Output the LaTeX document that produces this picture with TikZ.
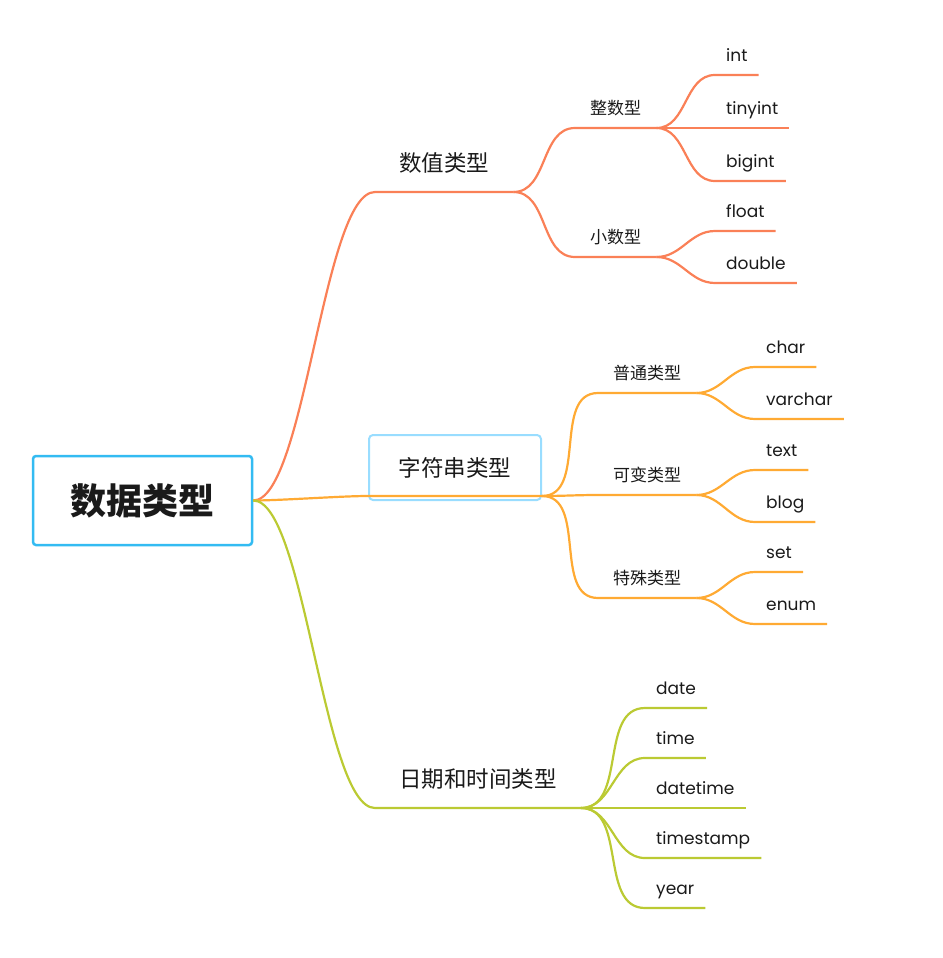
\documentclass[tikz,border=0pt]{standalone}
\usepackage{fontspec}
\setmainfont{Poppins}
\newfontfamily\cjk{Noto Sans CJK SC}

\definecolor{numred}{HTML}{FA8057}
\definecolor{strorange}{HTML}{FFAA33}
\definecolor{dategreen}{HTML}{BBCA33}
\definecolor{rootblue}{HTML}{33BBF2}
\definecolor{selblue}{HTML}{99DDFF}
\definecolor{ink}{HTML}{1A1A1A}

\tikzset{
  root/.style = {draw=rootblue, line width=2.5pt, rounded corners=3pt, minimum width=219pt, minimum height=89pt, text=ink, font=\cjk\bfseries\fontsize{36}{40}\selectfont},
  topic/.style = {anchor=south west, inner xsep=24pt, inner ysep=15.5pt, text depth=5pt, text=ink, font=\cjk\fontsize{22.5}{26}\selectfont},
  picked/.style = {draw=selblue, line width=2pt, rounded corners=4pt, minimum width=172pt, minimum height=65pt, text=ink, font=\cjk\fontsize{22.5}{26}\selectfont},
  sub/.style = {anchor=south west, inner xsep=15pt, inner ysep=9.5pt, text depth=4pt, text=ink, font=\cjk\fontsize{17}{20}\selectfont},
  leaf/.style = {anchor=south west, inner xsep=11pt, inner ysep=9pt, text height=12pt, text depth=4pt, text=ink, font=\fontsize{17}{20}\selectfont},
  numline/.style = {draw=numred, line width=2.2pt},
  strline/.style = {draw=strorange, line width=2.2pt},
  dateline/.style = {draw=dategreen, line width=2.2pt},
}

\begin{document}
\begin{tikzpicture}[x=1pt, y=-1pt]
	\useasboundingbox (0,0) rectangle (942,958);

	%% Nodes
	\node[root] (root) at (142.5,500.5) {数据类型};

	\node[topic] (num) at (375,192) {数值类型};
	\node[picked] (str) at (455,467.5) {字符串类型};
	\node[topic] (date) at (375,808) {日期和时间类型};

	\node[sub] (zheng) at (575,128) {整数型};
	\node[sub] (xiao) at (575,257) {小数型};

	\node[leaf] (int) at (715,75) {int};
	\node[leaf] (tinyint) at (715,128) {tinyint};
	\node[leaf] (bigint) at (715,181) {bigint};
	\node[leaf] (float) at (715,231) {float};
	\node[leaf] (double) at (715,283) {double};

	\node[sub] (putong) at (598,393) {普通类型};
	\node[sub] (kebian) at (598,495) {可变类型};
	\node[sub] (teshu) at (598,598) {特殊类型};

	\node[leaf] (char) at (755,367) {char};
	\node[leaf] (varchar) at (755,419) {varchar};
	\node[leaf] (text) at (755,470) {text};
	\node[leaf] (blog) at (755,522) {blog};
	\node[leaf] (set) at (755,572) {set};
	\node[leaf] (enum) at (755,624) {enum};

	\node[leaf] (d1) at (645,708) {date};
	\node[leaf] (d2) at (645,758) {time};
	\node[leaf] (d3) at (645,808) {datetime};
	\node[leaf] (d4) at (645,858) {timestamp};
	\node[leaf] (d5) at (645,908) {year};

	\coordinate (str-w) at ([yshift=5pt]str.south west);
	\coordinate (str-e) at ([yshift=5pt]str.south east);

	%% Edges
	\draw[numline] (root.east) to[out=0, in=180, looseness=0.4] (num.south west) -- (num.south east);
	\draw[strline] (root.east) to[out=0, in=180, looseness=0.6] (str-w) -- (str-e);
	\draw[dateline] (root.east) to[out=0, in=180, looseness=0.4] (date.south west) -- (date.south east);

	\draw[numline] (num.south east) to[out=0, in=180] (zheng.south west) -- (zheng.south east);
	\draw[numline] (num.south east) to[out=0, in=180] (xiao.south west) -- (xiao.south east);
	\draw[numline] (zheng.south east) to[out=0, in=180] (int.south west) -- (int.south east);
	\draw[numline] (zheng.south east) to[out=0, in=180] (tinyint.south west) -- (tinyint.south east);
	\draw[numline] (zheng.south east) to[out=0, in=180] (bigint.south west) -- (bigint.south east);
	\draw[numline] (xiao.south east) to[out=0, in=180] (float.south west) -- (float.south east);
	\draw[numline] (xiao.south east) to[out=0, in=180] (double.south west) -- (double.south east);

	\draw[strline] (str-e) to[out=0, in=180] (putong.south west) -- (putong.south east);
	\draw[strline] (str-e) to[out=0, in=180] (kebian.south west) -- (kebian.south east);
	\draw[strline] (str-e) to[out=0, in=180] (teshu.south west) -- (teshu.south east);
	\draw[strline] (putong.south east) to[out=0, in=180] (char.south west) -- (char.south east);
	\draw[strline] (putong.south east) to[out=0, in=180] (varchar.south west) -- (varchar.south east);
	\draw[strline] (kebian.south east) to[out=0, in=180] (text.south west) -- (text.south east);
	\draw[strline] (kebian.south east) to[out=0, in=180] (blog.south west) -- (blog.south east);
	\draw[strline] (teshu.south east) to[out=0, in=180] (set.south west) -- (set.south east);
	\draw[strline] (teshu.south east) to[out=0, in=180] (enum.south west) -- (enum.south east);

	\draw[dateline] (date.south east) to[out=0, in=180] (d1.south west) -- (d1.south east);
	\draw[dateline] (date.south east) to[out=0, in=180] (d2.south west) -- (d2.south east);
	\draw[dateline] (date.south east) to[out=0, in=180] (d3.south west) -- (d3.south east);
	\draw[dateline] (date.south east) to[out=0, in=180] (d4.south west) -- (d4.south east);
	\draw[dateline] (date.south east) to[out=0, in=180] (d5.south west) -- (d5.south east);
\end{tikzpicture}
\end{document}
